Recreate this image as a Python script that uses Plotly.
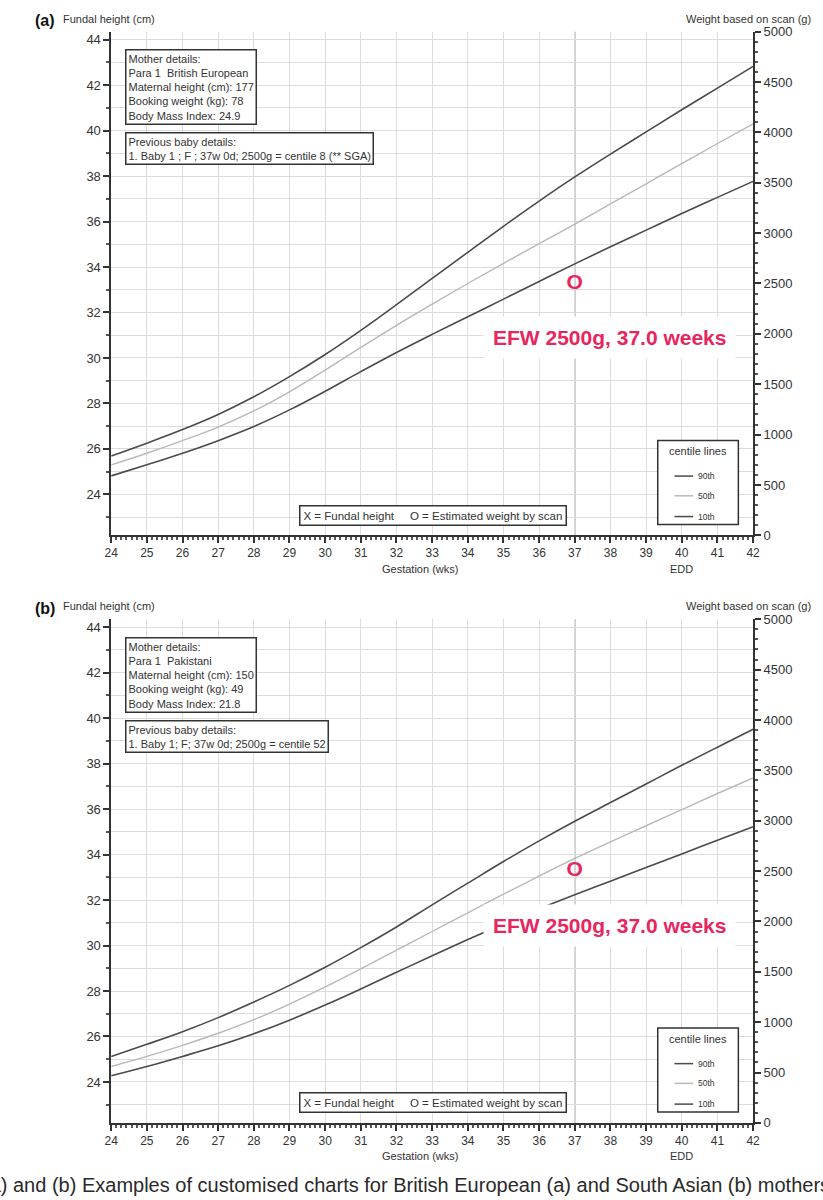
import plotly.graph_objects as go

# ---------------- data ----------------
weeks = [24, 25, 26, 27, 28, 29, 30, 31, 32, 33, 34, 35, 36, 37, 38, 39, 40, 41, 42]

# panel (a) British European mother - centile lines (g)
a_p90 = [787, 915, 1050, 1200, 1375, 1575, 1795, 2035, 2290, 2550, 2810, 3068, 3318, 3558, 3785, 4005, 4225, 4440, 4655]
a_p50 = [699, 815, 940, 1075, 1235, 1425, 1640, 1865, 2085, 2295, 2500, 2700, 2895, 3090, 3290, 3490, 3690, 3890, 4085]
a_p10 = [590, 700, 815, 940, 1080, 1245, 1430, 1625, 1815, 1995, 2170, 2345, 2520, 2695, 2865, 3030, 3195, 3355, 3514]

# panel (b) Pakistani mother - centile lines (g)
b_p90 = [659, 780, 905, 1045, 1200, 1365, 1545, 1740, 1945, 2165, 2380, 2595, 2800, 2995, 3180, 3365, 3550, 3730, 3907]
b_p50 = [560, 660, 770, 890, 1025, 1180, 1350, 1530, 1715, 1900, 2085, 2270, 2450, 2625, 2790, 2950, 3110, 3270, 3425]
b_p10 = [468, 560, 660, 765, 885, 1020, 1170, 1330, 1495, 1660, 1820, 1975, 2125, 2265, 2400, 2535, 2670, 2805, 2940]

efw_week = [37.0]
efw_g = [2500]

mother_a = ["Mother details:", "Para 1  British European", "Maternal height (cm): 177",
            "Booking weight (kg): 78", "Body Mass Index: 24.9"]
baby_a = ["Previous baby details:", "1. Baby 1 ; F ; 37w 0d; 2500g = centile 8 (** SGA)"]
mother_b = ["Mother details:", "Para 1  Pakistani", "Maternal height (cm): 150",
            "Booking weight (kg): 49", "Body Mass Index: 21.8"]
baby_b = ["Previous baby details:", "1. Baby 1; F; 37w 0d; 2500g = centile 52"]

centile_labels = ["90th", "50th", "10th"]
fundal_ticks = [24, 26, 28, 30, 32, 34, 36, 38, 40, 42, 44]
weight_ticks = [0, 500, 1000, 1500, 2000, 2500, 3000, 3500, 4000, 4500, 5000]

caption = "(a) and (b) Examples of customised charts for British European (a) and South Asian (b) mothers."

# ---------------- style ----------------
W, H = 823, 1200
FONT = "Liberation Sans, Arial, sans-serif"
TXT = "#333333"
DARK = "#4a4a4a"
LIGHT = "#b8b8b8"
RED = "#e8265e"
GRID = "#dcdcdc"

def px(x):
    return x / W

def py(y):
    return 1 - y / H

fig = go.Figure()

panels = [
    dict(tag="(a)", off=0, p90=a_p90, p50=a_p50, p10=a_p10, mother=mother_a, baby=baby_a,
         xa="x", ya="y", ya2="y2"),
    dict(tag="(b)", off=595, p90=b_p90, p50=b_p50, p10=b_p10, mother=mother_b, baby=baby_b,
         xa="x2", ya="y3", ya2="y4"),
]

annotations = []
shapes = []

for p in panels:
    o = p["off"]
    # invisible trace for the left axis
    fig.add_trace(go.Scatter(x=[weeks[0]], y=[fundal_ticks[0]], mode="markers",
                             marker=dict(opacity=0), xaxis=p["xa"], yaxis=p["ya"],
                             showlegend=False, hoverinfo="skip"))
    for vals, col, wd in [(p["p90"], DARK, 1.6), (p["p50"], LIGHT, 1.4), (p["p10"], DARK, 1.6)]:
        fig.add_trace(go.Scatter(x=weeks, y=vals, mode="lines",
                                 line=dict(color=col, width=wd, shape="spline", smoothing=1.0),
                                 xaxis=p["xa"], yaxis=p["ya2"], showlegend=False))
    # vertical line at scan gestation
    shapes.append(dict(type="line", xref=p["xa"], yref=p["ya"] + " domain", x0=efw_week[0], x1=efw_week[0],
                       y0=0, y1=1, line=dict(color="#a8a8a8", width=1.5), layer="below"))
    # EFW label with white background
    annotations.append(dict(xref="paper", yref="paper", x=px(612.5), y=py(335 + o),
                            text="<b>EFW %dg, %.1f weeks</b>" % (efw_g[0], efw_week[0]),
                            showarrow=False, font=dict(family=FONT, size=21, color=RED),
                            bgcolor="white", borderpad=9, xanchor="center", yanchor="middle"))
    fig.add_trace(go.Scatter(x=efw_week, y=efw_g, mode="text", text=["<b>O</b>"],
                             textfont=dict(family=FONT, size=21, color=RED), textposition="middle center",
                             xaxis=p["xa"], yaxis=p["ya2"], showlegend=False))
    # panel letter and axis titles
    annotations.append(dict(xref="paper", yref="paper", x=px(26), y=py(14 + o), text="<b>%s</b>" % p["tag"],
                            showarrow=False, xanchor="left", yanchor="middle",
                            font=dict(family=FONT, size=16, color="#111")))
    annotations.append(dict(xref="paper", yref="paper", x=px(55), y=py(12 + o), text="Fundal height (cm)",
                            showarrow=False, xanchor="left", yanchor="middle",
                            font=dict(family=FONT, size=11, color=TXT)))
    annotations.append(dict(xref="paper", yref="paper", x=px(820), y=py(12 + o), text="Weight based on scan (g)",
                            showarrow=False, xanchor="right", yanchor="middle",
                            font=dict(family=FONT, size=11, color=TXT)))
    annotations.append(dict(xref="paper", yref="paper", x=px(420), y=py(569 + o), text="Gestation (wks)",
                            showarrow=False, xanchor="center", yanchor="middle",
                            font=dict(family=FONT, size=11, color=TXT)))
    annotations.append(dict(xref="paper", yref="paper", x=px(686), y=py(569 + o), text="EDD",
                            showarrow=False, xanchor="center", yanchor="middle",
                            font=dict(family=FONT, size=11, color=TXT)))
    # info boxes
    annotations.append(dict(xref="paper", yref="paper", x=px(120), y=py(43 + o), text="<br>".join(p["mother"]),
                            showarrow=False, xanchor="left", yanchor="top", align="left",
                            font=dict(family=FONT, size=11, color=TXT), bgcolor="white",
                            bordercolor="#333", borderwidth=1.5, borderpad=2))
    annotations.append(dict(xref="paper", yref="paper", x=px(120), y=py(127 + o), text="<br>".join(p["baby"]),
                            showarrow=False, xanchor="left", yanchor="top", align="left",
                            font=dict(family=FONT, size=11, color=TXT), bgcolor="white",
                            bordercolor="#333", borderwidth=1.5, borderpad=2))
    annotations.append(dict(xref="paper", yref="paper", x=px(433), y=py(514.5 + o),
                            text="X = Fundal height     O = Estimated weight by scan",
                            showarrow=False, xanchor="center", yanchor="middle",
                            font=dict(family=FONT, size=11.5, color=TXT), bgcolor="white",
                            bordercolor="#333", borderwidth=1.5, borderpad=3))
    # centile legend box
    shapes.append(dict(type="rect", xref="paper", yref="paper", x0=px(662), x1=px(744),
                       y0=py(524 + o), y1=py(439 + o), line=dict(color="#333", width=1.5), fillcolor="white"))
    annotations.append(dict(xref="paper", yref="paper", x=px(703), y=py(450 + o), text="centile lines",
                            showarrow=False, xanchor="center", yanchor="middle",
                            font=dict(family=FONT, size=11, color=TXT)))
    for lab, col, yy in zip(centile_labels, [DARK, LIGHT, DARK], [475, 495, 516]):
        shapes.append(dict(type="line", xref="paper", yref="paper", x0=px(679), x1=px(698),
                           y0=py(yy + o), y1=py(yy + o), line=dict(color=col, width=1.5)))
        annotations.append(dict(xref="paper", yref="paper", x=px(701), y=py(yy + o), text=lab,
                                showarrow=False, xanchor="left", yanchor="middle",
                                font=dict(family=FONT, size=8.5, color=TXT)))

# caption (cut off at the page edges, as in the source)
annotations.append(dict(xref="paper", yref="paper", x=px(-26), y=py(1193),
                        text=caption, showarrow=False, xanchor="left", yanchor="middle",
                        font=dict(family=FONT, size=20, color="#2a2a2a")))

xdom = [px(106), px(759)]
ydom_a = [py(535), py(25)]
ydom_b = [py(1130), py(620)]

def xaxis(anchor):
    return dict(domain=xdom, range=[24, 42], anchor=anchor, tick0=24, dtick=1,
                showgrid=True, gridcolor=GRID, gridwidth=1.2, zeroline=False,
                showline=True, linecolor="#333", linewidth=1.5, ticks="outside", ticklen=6,
                tickcolor="#333", tickwidth=1.5,
                minor=dict(dtick=1 / 7, ticks="outside", ticklen=3, tickcolor="#555", showgrid=False),
                tickfont=dict(family=FONT, size=12, color=TXT), fixedrange=True)

def yleft(dom, anchor):
    return dict(domain=dom, range=[22.2, 44.35], anchor=anchor, tickvals=fundal_ticks,
                showgrid=True, gridcolor=GRID, gridwidth=1.2, zeroline=False,
                showline=True, linecolor="#333", linewidth=1.5, ticks="outside", ticklen=6,
                tickcolor="#333", tickwidth=1.5,
                minor=dict(dtick=1, ticks="outside", ticklen=3, tickcolor="#555", showgrid=True,
                           gridcolor=GRID, gridwidth=1.2),
                tickfont=dict(family=FONT, size=13, color=TXT))

def yright(over, anchor):
    return dict(overlaying=over, side="right", anchor=anchor, range=[0, 5000], tickvals=weight_ticks,
                tickformat="d", showgrid=False, zeroline=False,
                showline=True, linecolor="#333", linewidth=1.5, ticks="outside", ticklen=6,
                tickcolor="#333", tickwidth=1.5,
                minor=dict(dtick=100, ticks="outside", ticklen=3, tickcolor="#555", showgrid=False),
                tickfont=dict(family=FONT, size=13, color=TXT))

fig.update_layout(
    width=W, height=H, margin=dict(l=0, r=0, t=0, b=0),
    paper_bgcolor="white", plot_bgcolor="white", showlegend=False,
    xaxis=xaxis("y"), yaxis=yleft(ydom_a, "x"), yaxis2=yright("y", "x"),
    xaxis2=xaxis("y3"), yaxis3=yleft(ydom_b, "x2"), yaxis4=yright("y3", "x2"),
    annotations=annotations, shapes=shapes,
)

fig.write_html("out.html")
